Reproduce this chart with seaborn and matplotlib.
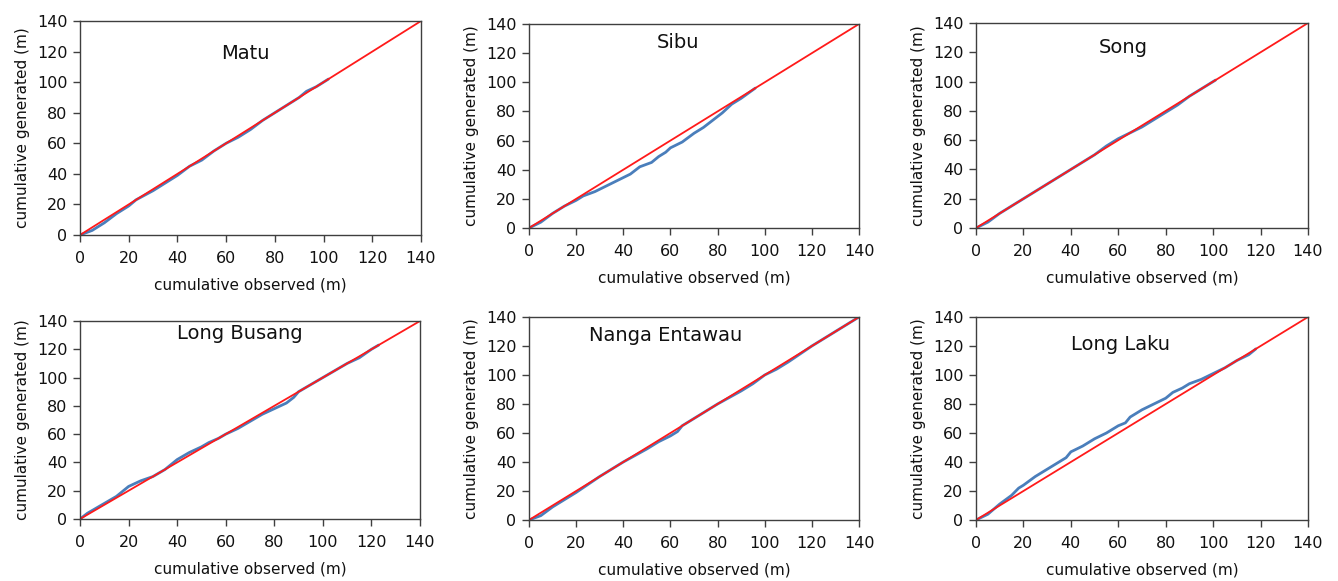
import numpy as np
import pandas as pd
import matplotlib
matplotlib.use("Agg")
import matplotlib.pyplot as plt
import seaborn as sns

# ---- data ----
stations = ["Matu", "Sibu", "Song", "Long Busang", "Nanga Entawau", "Long Laku"]

matu_obs = [0, 5, 10, 15, 20, 23, 30, 35, 40, 45, 50, 55, 60, 65, 70, 75, 80, 85, 90, 93, 97, 102]
matu_gen = [0, 3, 8, 14, 19, 23, 29, 34, 39, 45, 49, 55, 60, 64, 69, 75, 80, 85, 90, 94, 97, 102]

sibu_obs = [0, 5, 10, 15, 20, 23, 28, 33, 38, 43, 47, 52, 55, 58, 60, 65, 70, 74, 78, 82, 86, 90, 96]
sibu_gen = [0, 4, 10, 15, 19, 22, 25, 29, 33, 37, 42, 45, 49, 52, 55, 59, 65, 69, 74, 79, 85, 89, 96]

song_obs = [0, 5, 10, 15, 20, 30, 40, 45, 50, 55, 60, 65, 70, 75, 80, 85, 90, 95, 101]
song_gen = [0, 4, 10, 15, 20, 30, 40, 45, 50, 56, 61, 65, 69, 74, 79, 84, 90, 95, 101]

busang_obs = [0, 3, 6, 10, 15, 20, 25, 30, 35, 40, 45, 50, 53, 57, 60, 65, 70, 75, 80, 85,
              88, 90, 95, 100, 105, 110, 115, 120, 123]
busang_gen = [0, 4, 7, 11, 16, 23, 27, 30, 35, 42, 47, 51, 54, 57, 60, 64, 69, 74, 78, 82,
              86, 90, 95, 100, 105, 110, 114, 120, 123]

nanga_obs = [0, 5, 10, 20, 30, 35, 40, 50, 55, 60, 63, 65, 70, 80, 90, 95, 100, 105, 110, 120, 130, 135, 140]
nanga_gen = [0, 3, 9, 19, 30, 35, 40, 49, 54, 58, 61, 65, 70, 80, 89, 94, 100, 104, 109, 120, 130, 135, 140]

laku_obs = [0, 5, 10, 15, 18, 20, 25, 30, 35, 38, 40, 45, 50, 55, 60, 63, 65, 70, 75, 80,
            83, 87, 90, 95, 100, 105, 110, 115, 118]
laku_gen = [0, 4, 11, 17, 22, 24, 30, 35, 40, 43, 47, 51, 56, 60, 65, 67, 71, 76, 80, 84,
            88, 91, 94, 97, 101, 105, 110, 114, 118]

series = [(matu_obs, matu_gen), (sibu_obs, sibu_gen), (song_obs, song_gen),
          (busang_obs, busang_gen), (nanga_obs, nanga_gen), (laku_obs, laku_gen)]

ref_line = [0, 140]
ticks = [0, 20, 40, 60, 80, 100, 120, 140]

# title positions (data coords) for each panel
title_pos = [(68, 119), (63, 127), (62, 123), (66, 131), (58, 127), (61, 121)]

# ---- layout (pixel boxes: left, right, top, bottom) ----
W, H = 1338, 581
boxes = [(80, 421, 21, 235), (529, 859, 24, 228), (976, 1308, 23, 228),
         (80, 420, 321, 519), (529, 859, 317, 520), (976, 1308, 317, 520)]

sns.set_theme(style="white")
plt.rcParams['font.family'] = ['DejaVu Sans']

fig = plt.figure(figsize=(W / 100, H / 100), dpi=100)
blue = "#4a7ebb"
red = "#ff1a1a"
spine_c = "#3f3f3f"
txt_c = "#111111"

for i, (name, (obs, gen), box) in enumerate(zip(stations, series, boxes)):
    l, r, t, b = box
    ax = fig.add_axes([l / W, 1 - b / H, (r - l) / W, (b - t) / H])
    df = pd.DataFrame({"obs": obs, "gen": gen})
    sns.lineplot(data=df, x="obs", y="gen", ax=ax, color=blue, linewidth=2.0,
                 sort=False, estimator=None)
    sns.lineplot(x=ref_line, y=ref_line, ax=ax, color=red, linewidth=1.3)
    ax.set_xlim(0, 140)
    ax.set_ylim(0, 140)
    ax.set_xticks(ticks)
    ax.set_yticks(ticks)
    ax.tick_params(axis="both", which="both", direction="out", length=5, width=1,
                   color=spine_c, labelsize=11.5, labelcolor=txt_c,
                   bottom=True, left=True)
    ax.tick_params(axis="x", pad=6.5)
    ax.tick_params(axis="y", pad=4)
    for s in ax.spines.values():
        s.set_color(spine_c)
        s.set_linewidth(1.0)
        s.set_visible(True)
    ax.set_xlabel("cumulative observed (m)", fontsize=11, color=txt_c, labelpad=8.5)
    ax.set_ylabel("cumulative generated (m)", fontsize=11, color=txt_c, labelpad=5)
    tx, ty = title_pos[i]
    ax.text(tx, ty, name, ha="center", va="center", fontsize=14, color=txt_c)
    ax.grid(False)

fig.savefig("out.png", dpi=100)
